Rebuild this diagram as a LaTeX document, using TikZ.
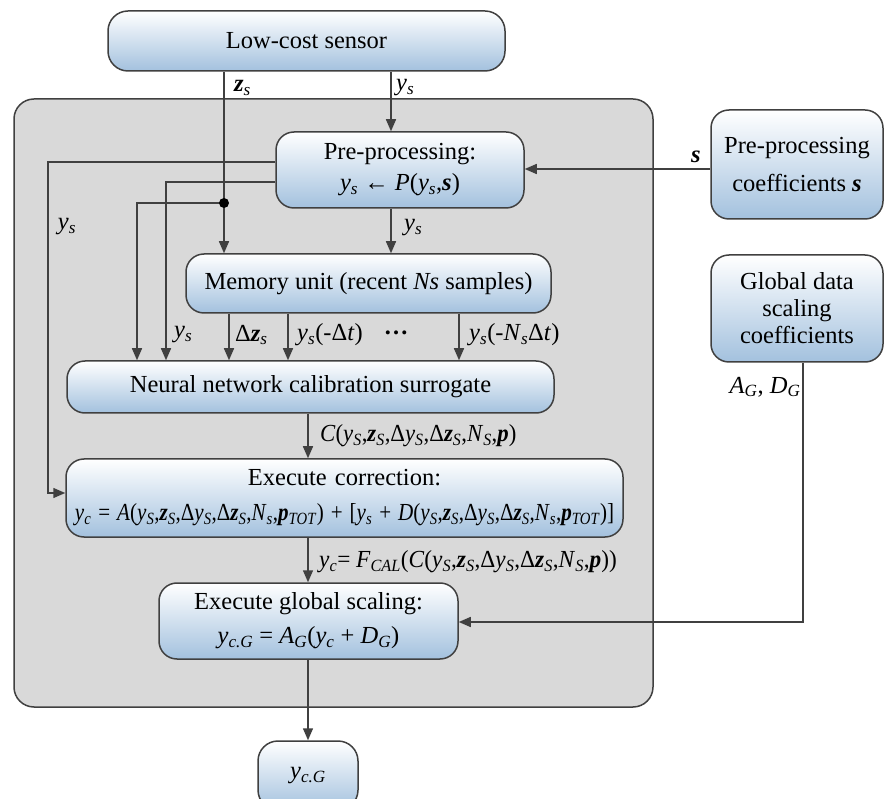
\documentclass[tikz,border=0pt]{standalone}
\usepackage{fontspec}
\usepackage{graphicx}
\setmainfont{Liberation Serif}
\usetikzlibrary{arrows.meta}
\definecolor{lc}{HTML}{404040}
\definecolor{bb}{RGB}{163,193,222}
\definecolor{frm}{HTML}{D9D9D9}
\newcommand\myys{\textit{y}\textsubscript{\textit{s}}}
\newcommand\myyS{\textit{y}\textsubscript{\textit{S}}}
\newcommand\myzs{\textbf{\textit{z}}\textsubscript{\textit{s}}}
\newcommand\myzS{\textbf{\textit{z}}\textsubscript{\textit{S}}}
\newcommand\mybs{\textbf{\textit{s}}}
\newcommand\mybp{\textbf{\textit{p}}}
\newcommand\myNs{\textit{N}\textsubscript{\textit{s}}}
\newcommand\myNS{\textit{N}\textsubscript{\textit{S}}}
\newcommand\mypt{\textbf{\textit{p}}\textsubscript{\textit{TOT}}}
\begin{document}
\begin{tikzpicture}[x=1pt,y=-1pt,
  box/.style={draw=lc, line width=1.5pt, rounded corners=18pt, top color=white, bottom color=bb,
    inner sep=0pt, align=center, font=\fontsize{24.5}{31}\selectfont},
  frame/.style={draw=lc, line width=1.5pt, rounded corners=20pt, fill=frm, inner sep=0pt},
  arr/.style={draw=lc, line width=1.5pt, -{Triangle[length=12pt,width=10pt]}},
  lab/.style={inner sep=0pt, font=\fontsize{24.5}{29}\selectfont}]
\useasboundingbox (0,0) rectangle (884,799);
\clip (0,0) rectangle (884,799);
\fill[white] (0,0) rectangle (884,799);

\node[frame, minimum width=639pt, minimum height=608pt] (frame) at (333.5,403) {};

\node[box, minimum width=397pt, minimum height=60pt, rounded corners=20pt] (sensor) at (306.5,41) {Low-cost sensor};
\node[box, minimum width=248pt, minimum height=76pt] (pre) at (400,170) {Pre-processing:\\\myys{} ← \textit{P}(\myys,\mybs)};
\node[box, minimum width=365pt, minimum height=59pt] (mem) at (368.5,283.5) {Memory unit (recent \textit{Ns} samples)};
\node[box, minimum width=487pt, minimum height=52pt] (nn) at (310.5,387) {Neural network calibration surrogate};
\node[box, minimum width=557pt, minimum height=78pt, text width=557pt, font=\fontsize{24.5}{35}\selectfont] (exec) at (344.5,498)
  {Execute correction:\\\scalebox{0.86}[1]{\textit{y}\textsubscript{\textit{c}} = \textit{A}(\myyS,\myzS,Δ\myyS,Δ\myzS,\myNs,\mypt) + [\myys{} + \textit{D}(\myyS,\myzS,Δ\myyS,Δ\myzS,\myNs,\mypt)]}};
\node[box, minimum width=299pt, minimum height=76pt, font=\fontsize{24.5}{34}\selectfont] (gs) at (308.5,621)
  {Execute global scaling:\\\textit{y}\textsubscript{\textit{c.G}} = \textit{A}\textsubscript{\textit{G}}(\textit{y}\textsubscript{\textit{c}} + \textit{D}\textsubscript{\textit{G}})};
\node[box, minimum width=100pt, minimum height=69pt, rounded corners=20pt] (out) at (308,775.5) {\textit{y}\textsubscript{\textit{c.G}}};
\node[box, minimum width=172pt, minimum height=109pt, font=\fontsize{24.5}{38}\selectfont] (ppc) at (797,164.5) {Pre-processing\\coefficients \mybs};
\node[box, minimum width=172pt, minimum height=107pt, font=\fontsize{24.5}{27}\selectfont] (gc) at (797,308.5) {Global data\\scaling\\coefficients};

\coordinate (zx) at (224,0);
\coordinate (yx) at (391,0);
\coordinate (cx) at (308,0);
\coordinate (gx) at (803,0);
\coordinate (sy) at (0,169);
\coordinate (ea) at (0,493);
\coordinate (ga) at (0,622);
\coordinate (l1) at (48,162);
\coordinate (l2) at (166,182);
\coordinate (l3) at (137,203);
\coordinate (dot) at (224,203);
\coordinate (m1) at (229,0);
\coordinate (m2) at (288,0);
\coordinate (m3) at (459,0);

\draw[arr] (sensor.south -| zx) -- (mem.north -| zx);
\draw[arr] (sensor.south -| yx) -- (pre.north -| yx);
\draw[arr] (ppc.west |- sy) -- (pre.east |- sy);
\draw[arr] (pre.west |- l1) -- (l1) |- (exec.west |- ea);
\draw[arr] (pre.west |- l2) -- (l2) -- (l2 |- nn.north);
\draw[arr] (dot) -- (l3) -- (l3 |- nn.north);
\fill[black] (dot) circle (5pt);
\draw[arr] (pre.south -| yx) -- (mem.north -| yx);
\draw[arr] (mem.south -| m1) -- (nn.north -| m1);
\draw[arr] (mem.south -| m2) -- (nn.north -| m2);
\draw[arr] (mem.south -| m3) -- (nn.north -| m3);
\draw[arr] (nn.south -| cx) -- (exec.north -| cx);
\draw[arr] (exec.south -| cx) -- (gs.north -| cx);
\draw[arr] (gs.south -| cx) -- (out.north -| cx);
\draw[arr] (gc.south -| gx) -- (gx |- ga) -- (gs.east |- ga);

\node[lab, anchor=west] (tz) at (234,88) {\myzs};
\node[lab, anchor=west] (ty) at (396,88) {\myys};
\node[lab] (ts) at (696,157) {\mybs};
\node[lab] (tl) at (67,227) {\myys};
\node[lab, anchor=west] (tp) at (404,228) {\myys};
\node[lab, anchor=west] (t1) at (174,335) {\myys};
\node[lab, anchor=west] (t2) at (235,335) {Δ\myzs};
\node[lab, anchor=west] (t3) at (297,335) {\myys(-Δ\textit{t})};
\node[lab] (t4) at (396,333) {\textbf{…}};
\node[lab, anchor=west] (t5) at (469,335) {\myys(-\myNs Δ\textit{t})};
\node[lab, anchor=west] (tc) at (320,436) {\scalebox{0.93}[1]{\textit{C}(\myyS,\myzS,Δ\myyS,Δ\myzS,\myNS,\mybp)}};
\node[lab, anchor=west] (tf) at (319,562) {\scalebox{0.95}[1]{\textit{y}\textsubscript{\textit{c}}= \textit{F}\textsubscript{\textit{CAL}}(\textit{C}(\myyS,\myzS,Δ\myyS,Δ\myzS,\myNS,\mybp))}};
\node[lab] (tg) at (765,387) {\textit{A}\textsubscript{\textit{G}}, \textit{D}\textsubscript{\textit{G}}};
\end{tikzpicture}
\end{document}
